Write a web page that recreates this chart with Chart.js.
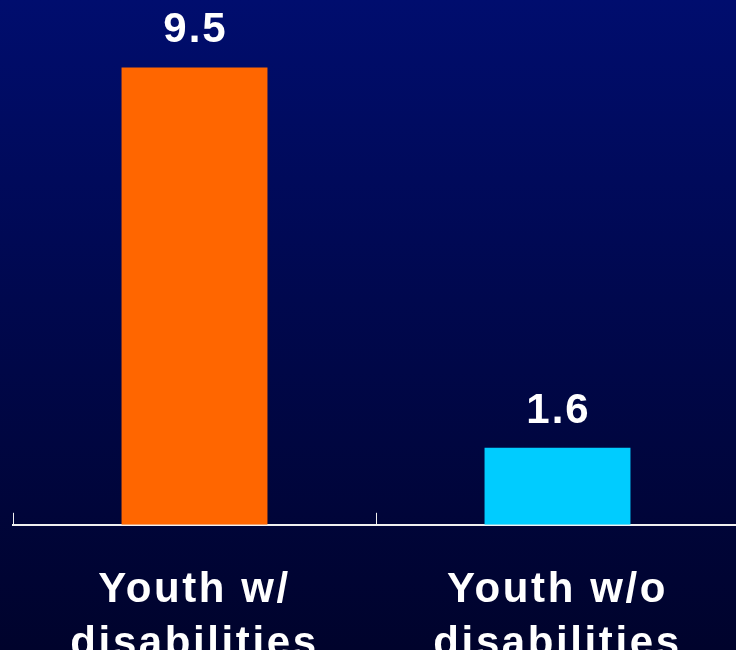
<!DOCTYPE html>
<html>
<head>
<meta charset="utf-8">
<script src="https://cdn.jsdelivr.net/npm/chart.js@4.4.0/dist/chart.umd.min.js"></script>
<style>
  html, body { margin: 0; padding: 0; overflow: hidden; }
  body {
    width: 736px; height: 650px;
    background: linear-gradient(to bottom, #000d6e 0px, #00084e 300px, #00032c 650px);
  }
  #wrap { width: 740px; height: 722px; position: relative; }
</style>
</head>
<body>
<div id="wrap"><canvas id="ratioChart"></canvas></div>
<script>
// categories and values
const groups = [["Youth w/", "disabilities"], ["Youth w/o", "disabilities"]];
const rates = [9.5, 1.6];
const barColors = ["#ff6600", "#00ccff"];

// value labels above each bar
const valueLabels = {
  id: "valueLabels",
  afterDatasetsDraw(chart) {
    const ctx = chart.ctx;
    const meta = chart.getDatasetMeta(0);
    ctx.save();
    ctx.letterSpacing = "2px";
    ctx.font = "bold 42px 'Liberation Sans', Arial, sans-serif";
    ctx.fillStyle = "#ffffff";
    ctx.textAlign = "center";
    ctx.textBaseline = "alphabetic";
    meta.data.forEach((bar, i) => {
      ctx.fillText(rates[i].toFixed(1), bar.x + 1, bar.y - 25);
    });
    ctx.restore();
  }
};

// spread out the axis lettering a little
const spacing = {
  id: "spacing",
  beforeUpdate(chart) { chart.ctx.letterSpacing = "2.6px"; },
  beforeDraw(chart) { chart.ctx.letterSpacing = "2.6px"; }
};

new Chart(document.getElementById("ratioChart"), {
  type: "bar",
  data: {
    labels: groups,
    datasets: [{
      data: rates,
      backgroundColor: barColors,
      borderWidth: 0,
      barPercentage: 0.402,
      categoryPercentage: 1
    }]
  },
  options: {
    responsive: true,
    maintainAspectRatio: false,
    animation: false,
    layout: { padding: { left: 13, right: 1, top: 0, bottom: 0 } },
    plugins: {
      legend: { display: false },
      tooltip: { enabled: false }
    },
    scales: {
      y: { display: false, min: 0, max: 10.9 },
      x: {
        border: { display: true, color: "#f0f0f0", width: 2 },
        grid: {
          offset: true,
          drawOnChartArea: false,
          drawTicks: true,
          tickLength: -12,
          color: "#f0f0f0",
          lineWidth: 1
        },
        ticks: {
          color: "#ffffff",
          padding: 50,
          font: { family: "'Liberation Sans', Arial, sans-serif", size: 42, weight: "bold", lineHeight: 1.3 }
        }
      }
    }
  },
  plugins: [spacing, valueLabels]
});
</script>
</body>
</html>
